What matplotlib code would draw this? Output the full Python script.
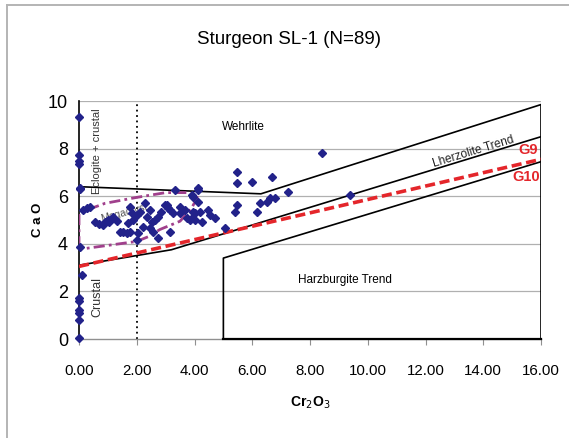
import matplotlib
matplotlib.use("Agg")
import matplotlib.pyplot as plt
from matplotlib.lines import Line2D

plt.rcParams['font.family'] = ['Liberation Sans', 'DejaVu Sans']

# Garnet analyses: Cr2O3 (wt%) and CaO (wt%)
cr2o3 = [0.0, 0.0, 0.0, 0.0, 0.03, 0.05, 0.03, 0.1, 0.0, 0.0, 0.0, 0.0, 0.0, 0.0,
         0.28, 0.38, 0.14, 0.55, 0.83, 0.9, 1.0, 1.18, 1.42, 1.52, 1.66, 1.77, 1.7,
         1.77, 1.83, 1.87, 2.0, 2.1, 2.04, 2.0, 2.22, 2.29, 2.35, 2.46, 2.53, 2.63,
         2.74, 2.74, 2.46, 2.56, 2.98, 3.08, 3.15, 3.26, 3.32, 3.67, 3.74, 3.84, 3.95,
         4.02, 3.15, 3.5, 3.5, 3.91, 4.12, 4.12, 3.95, 4.19, 3.91, 4.02, 4.26, 4.47,
         4.54, 4.71, 5.06, 5.47, 5.47, 5.99, 6.68, 5.47, 5.4, 6.16, 6.27, 6.51, 6.61,
         6.79, 7.24, 8.4, 9.38, 4.12, 3.05, 1.3, 2.85, 0.7, 1.05]
cao = [9.33, 7.73, 7.5, 7.35, 6.34, 6.3, 3.87, 2.69, 1.72, 1.58, 1.22, 1.08, 0.8, 0.04,
       5.5, 5.55, 5.42, 4.92, 4.79, 4.92, 5.0, 5.13, 4.5, 4.5, 4.45, 4.5, 4.87,
       5.55, 5.29, 5.0, 5.21, 5.34, 4.45, 4.16, 4.7, 5.71, 5.13, 5.42, 4.92, 5.0,
       5.13, 4.24, 4.66, 4.5, 5.63, 5.5, 4.5, 5.29, 6.26, 5.42, 5.08, 5.0, 5.97,
       5.29, 5.42, 5.55, 5.29, 6.05, 6.26, 5.76, 5.34, 5.34, 5.08, 5.0, 4.92, 5.42,
       5.21, 5.08, 4.66, 7.02, 6.55, 6.6, 6.81, 5.63, 5.34, 5.34, 5.71, 5.76, 5.92,
       5.92, 6.18, 7.83, 6.05, 6.34, 5.63, 4.95, 5.35, 4.85, 4.9]

# Field boundaries
wehrlite_x = [0, 6.3, 16]
wehrlite_y = [6.4, 6.1, 9.85]
lherz_low_x = [0, 3.2, 16]
lherz_low_y = [3.1, 3.75, 8.5]
right_x = [16, 16]
right_y = [0, 9.85]
harz_x = [5, 5, 16]
harz_y = [0, 3.4, 7.45]
harz_base_x = [5, 16]
harz_base_y = [0, 0]
g9g10_x = [0, 16]
g9g10_y = [3.05, 7.55]
megacryst_x = [0, 0, 0.9, 2.0, 3.0, 3.8, 4.1, 3.9, 3.5, 2.8, 2.4, 2.0, 0.2, 0]
megacryst_y = [3.85, 5.3, 5.7, 5.95, 6.15, 6.15, 5.95, 5.5, 4.95, 4.6, 4.3, 4.1, 3.8, 3.85]
xticks = [0, 2, 4, 6, 8, 10, 12, 14, 16]
xtick_labels = ['0.00', '2.00', '4.00', '6.00', '8.00', '10.00', '12.00', '14.00', '16.00']
yticks = [0, 2, 4, 6, 8, 10]

fig = plt.figure(figsize=(5.69, 4.38), dpi=100)
fig.patch.set_facecolor('white')

# chart frame
fig.add_artist(Line2D([7/569, 7/569], [0, 1 - 5/438], transform=fig.transFigure,
                      color='#b4b4b4', lw=1.4))
fig.add_artist(Line2D([7/569, 1], [1 - 5/438, 1 - 5/438], transform=fig.transFigure,
                      color='#b4b4b4', lw=1.4))

ax = fig.add_axes([79/569, 1 - 339/438, 462/569, 238/438])
ax.set_xlim(0, 16)
ax.set_ylim(0, 10)

for yv in yticks[1:]:
    ax.axhline(yv, color='#b0b0b0', lw=0.9, zorder=1)

for s in ['top', 'right']:
    ax.spines[s].set_visible(False)
ax.spines['left'].set_color('black')
ax.spines['left'].set_linewidth(1.2)
ax.spines['bottom'].set_color('#909090')
ax.spines['bottom'].set_linewidth(1.0)

ax.set_xticks(xticks)
ax.set_xticklabels(xtick_labels, fontsize=10.8)
ax.set_yticks(yticks)
ax.tick_params(axis='x', length=4, width=0.8, color='#909090', pad=14)
ax.tick_params(axis='y', length=0, labelsize=13, pad=8)

# vertical 2 wt% Cr2O3 divider
ax.plot([2, 2], [0, 10], color='black', lw=1.3, linestyle=(0, (1, 2)), zorder=2)

# field lines
ax.plot(wehrlite_x, wehrlite_y, color='black', lw=1.2, zorder=3)
ax.plot(lherz_low_x, lherz_low_y, color='black', lw=1.2, zorder=3)
ax.plot(right_x, right_y, color='black', lw=1.2, zorder=3)
ax.plot(harz_x, harz_y, color='black', lw=1.2, zorder=3)
ax.plot(harz_base_x, harz_base_y, color='black', lw=1.6, zorder=3, clip_on=False)

# megacryst field
ax.plot(megacryst_x, megacryst_y, color='#a0408c', lw=2.0,
        linestyle=(0, (4, 1.5, 1, 1.5)), zorder=4)

# G9/G10 divide
ax.plot(g9g10_x, g9g10_y, color='#e4262b', lw=2.6, linestyle=(0, (2.8, 1.3)), zorder=5)

ax.plot(cr2o3, cao, linestyle='none', marker='D', markersize=4.0,
        color='#22228a', zorder=6, clip_on=False)

# annotations
ax.text(5.7, 8.9, 'Wehrlite', fontsize=8.5, ha='center', va='center')
ax.text(13.65, 7.85, 'Lherzolite Trend', fontsize=8.5, ha='center', va='center',
        rotation=17, color='#222222')
ax.text(9.2, 2.5, 'Harzburgite Trend', fontsize=8.5, ha='center', va='center')
ax.text(15.55, 7.95, 'G9', fontsize=10.5, color='#e4262b', fontweight='bold',
        ha='center', va='center')
ax.text(15.5, 6.8, 'G10', fontsize=10.5, color='#e4262b', fontweight='bold',
        ha='center', va='center')
ax.text(0.62, 7.9, 'Eclogite + crustal', fontsize=8, rotation=90, ha='center',
        va='center', color='#333333')
ax.text(0.62, 1.75, 'Crustal', fontsize=9, rotation=90, ha='center', va='center',
        color='#333333')
ax.text(1.55, 5.3, 'Megacryst', fontsize=7.5, rotation=15, ha='center', va='center',
        color='#555555', zorder=5)

ax.set_xlabel('Cr$_2$O$_3$', fontsize=10, fontweight='bold', labelpad=12)
ax.set_ylabel('C a O', fontsize=9.5, fontweight='bold', labelpad=3)

fig.text(289/569, 1 - 40/438, 'Sturgeon SL-1 (N=89)', fontsize=13.5,
         ha='center', va='center')

fig.savefig('out.png', dpi=100, facecolor='white')
